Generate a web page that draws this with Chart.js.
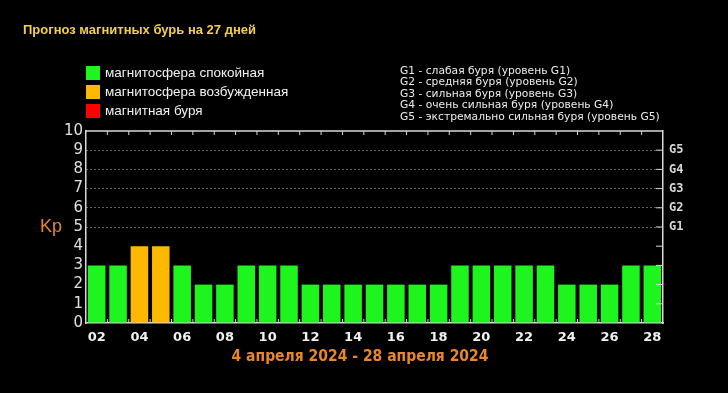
<!DOCTYPE html>
<html>
<head>
<meta charset="utf-8">
<script src="https://cdn.jsdelivr.net/npm/chart.js@4/dist/chart.umd.min.js"></script>
<style>
  html, body { margin: 0; padding: 0; background: #000; }
  #wrap { width: 728px; height: 393px; }
</style>
</head>
<body>
<div id="wrap"><canvas id="kpChart"></canvas></div>
<script>
// Прогноз Kp-индекса, дни месяца
const days = ['02','03','04','05','06','07','08','09','10','11','12','13','14','15',
              '16','17','18','19','20','21','22','23','24','25','26','27','28'];
const kpValues = [3,3,4,4,3,2,2,3,3,3,2,2,2,2,2,2,2,3,3,3,3,3,2,2,2,3,3];

const stormLevels = ['G1','G2','G3','G4','G5'];          // Kp 5..9
const stormTexts = [
    'G1 - слабая буря (уровень G1)',
    'G2 - средняя буря (уровень G2)',
    'G3 - сильная буря (уровень G3)',
    'G4 - очень сильная буря (уровень G4)',
    'G5 - экстремально сильная буря (уровень G5)'
];
const stateNames = ['магнитосфера спокойная', 'магнитосфера возбужденная', 'магнитная буря'];
const stateColors = ['#1ef51e', '#fdb800', '#ff0000'];

const title = 'Прогноз магнитных бурь на 27 дней';
const period = '4 апреля 2024 - 28 апреля 2024';

function colorFor(kp) {
    return kp >= 5 ? stateColors[2] : kp >= 4 ? stateColors[1] : stateColors[0];
}

// Рамка, подписи, легенды
const decorPlugin = {
    id: 'decor',
    beforeDraw(chart) {
        const ctx = chart.ctx;
        ctx.save();
        ctx.fillStyle = '#000';
        ctx.fillRect(0, 0, chart.width, chart.height);
        ctx.restore();
    },
    afterDatasetsDraw(chart) {
        const {ctx, chartArea: a, scales: {x, y}} = chart;
        ctx.save();
        ctx.strokeStyle = '#d8d8d8';
        ctx.lineWidth = 1.5;
        // верхняя линия
        ctx.beginPath();
        ctx.moveTo(a.left, a.top);
        ctx.lineTo(a.right, a.top);
        ctx.stroke();
        // внутренние засечки между столбцами
        ctx.lineWidth = 1;
        ctx.beginPath();
        for (let i = 1; i < days.length; i++) {
            const px = (x.getPixelForValue(i - 1) + x.getPixelForValue(i)) / 2;
            ctx.moveTo(px, a.top);
            ctx.lineTo(px, a.top + 4);
            ctx.moveTo(px, a.bottom);
            ctx.lineTo(px, a.bottom - 4);
        }
        // засечки справа
        for (let v = 1; v <= 9; v++) {
            const py = y.getPixelForValue(v);
            ctx.moveTo(a.right, py);
            ctx.lineTo(a.right - 7, py);
        }
        ctx.stroke();
        ctx.restore();
    },
    afterDraw(chart) {
        const ctx = chart.ctx;
        ctx.save();
        ctx.textBaseline = 'middle';

        ctx.fillStyle = '#f2cf4c';
        ctx.font = 'bold 13px "Liberation Sans", Arial, sans-serif';
        ctx.fillText(title, 23, 30);

        ctx.font = '13.5px "Liberation Sans", Arial, sans-serif';
        stateNames.forEach((name, i) => {
            const top = 66 + i * 19;
            ctx.fillStyle = stateColors[i];
            ctx.fillRect(86, top, 14, 14);
            ctx.fillStyle = '#f2f2f2';
            ctx.fillText(name, 105, top + 7);
        });

        ctx.fillStyle = '#ececec';
        ctx.font = '10.7px "DejaVu Sans", Verdana, sans-serif';
        stormTexts.forEach((t, i) => ctx.fillText(t, 400, 71 + i * 11.5));

        ctx.fillStyle = '#e8862c';
        ctx.font = '18px "Liberation Sans", Arial, sans-serif';
        ctx.fillText('Kp', 40, 227);

        ctx.textAlign = 'center';
        ctx.font = 'bold 15.5px "Liberation Sans Narrow", "DejaVu Sans Condensed", sans-serif';
        ctx.fillText(period, 360, 357);
        ctx.restore();
    }
};

new Chart(document.getElementById('kpChart'), {
    type: 'bar',
    data: {
        labels: days,
        datasets: [{
            data: kpValues,
            backgroundColor: kpValues.map(colorFor),
            borderWidth: 0,
            barPercentage: 0.82,
            categoryPercentage: 1.0,
            yAxisID: 'y'
        }]
    },
    options: {
        responsive: true,
        maintainAspectRatio: false,
        animation: false,
        events: [],
        layout: { padding: { top: 131, left: 0, right: 0, bottom: 0 } },
        plugins: { legend: { display: false }, title: { display: false }, tooltip: { enabled: false } },
        scales: {
            x: {
                grid: { display: false, drawTicks: false },
                border: { display: true, color: '#d8d8d8', width: 1.5 },
                ticks: {
                    autoSkip: false,
                    maxRotation: 0,
                    padding: 7,
                    color: '#f0f0f0',
                    font: { family: '"DejaVu Sans", sans-serif', size: 13, weight: 'bold' },
                    callback: (v, i) => (i % 2 === 0 ? days[i] : '')
                },
                afterFit: s => { s.height = 70; }
            },
            y: {
                position: 'left',
                min: 0,
                max: 10,
                grid: {
                    drawTicks: false,
                    color: c => (c.tick && c.tick.value >= 5 && c.tick.value <= 9 ? '#c8c8c8' : 'transparent'),
                    lineWidth: 1
                },
                border: { display: true, color: '#d8d8d8', width: 1.5, dash: [1, 3] },
                ticks: {
                    stepSize: 1,
                    autoSkip: false,
                    padding: 3,
                    color: '#e0e0e0',
                    font: { family: '"DejaVu Sans", sans-serif', size: 15 }
                },
                afterFit: s => { s.width = 86; }
            },
            y2: {
                position: 'right',
                min: 0,
                max: 10,
                grid: { display: false, drawTicks: false },
                border: { display: true, color: '#d8d8d8', width: 1.5 },
                ticks: {
                    stepSize: 1,
                    autoSkip: false,
                    padding: 6,
                    color: '#d8d8d8',
                    font: { family: '"DejaVu Sans Mono", monospace', size: 12, weight: 'bold' },
                    callback: v => (v >= 5 && v <= 9 ? stormLevels[v - 5] : '')
                },
                afterFit: s => { s.width = 65; }
            }
        }
    },
    plugins: [decorPlugin]
});
</script>
</body>
</html>
